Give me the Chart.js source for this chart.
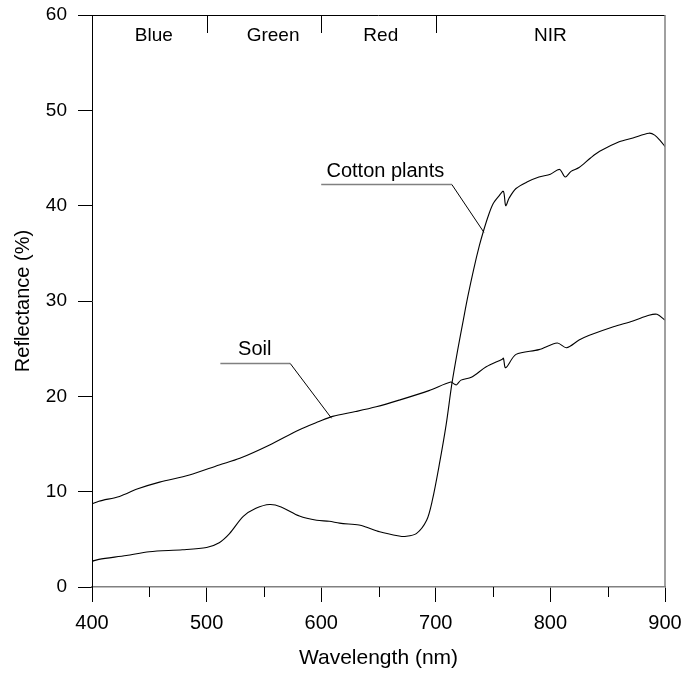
<!DOCTYPE html>
<html>
<head>
<meta charset="utf-8">
<script src="https://cdn.jsdelivr.net/npm/chart.js@4"></script>
<style>
  body { margin: 0; background: #fff; }
  #wrap { width: 685px; height: 690px; }
</style>
</head>
<body>
<div id="wrap"><canvas id="chart" width="685" height="690"></canvas></div>
<script>
// Soil spectrum
const soilWl = [400, 406, 424, 440, 459, 485, 511, 529, 555, 581, 598, 610, 630, 648, 668, 694, 713, 716, 718, 722, 731, 744, 758, 759, 761, 770, 790, 806, 814, 825, 834, 855, 872, 886, 893, 900];
const soilRefl = [8.7, 9.0, 9.5, 10.3, 11.0, 11.75, 12.8, 13.5, 14.9, 16.5, 17.35, 17.9, 18.4, 18.9, 19.6, 20.6, 21.5, 21.3, 21.2, 21.7, 22.0, 23.1, 23.9, 24.0, 23.0, 24.4, 24.9, 25.6, 25.1, 25.9, 26.4, 27.3, 27.9, 28.5, 28.6, 28.0];

// Cotton plant spectrum
const cottonWl = [400, 406, 430, 450, 479, 500, 511, 520, 532, 543, 555, 565, 581, 596, 607, 616, 633, 639, 651, 668, 673, 683, 692, 697, 703, 709, 714, 719, 724, 728, 733, 738, 742, 746, 750, 755, 759, 761, 764, 770, 780, 790, 800, 808, 813, 818, 825, 835, 843, 860, 872, 886, 891, 896, 900];
const cottonRefl = [2.7, 2.9, 3.3, 3.7, 3.9, 4.15, 4.65, 5.6, 7.4, 8.25, 8.65, 8.4, 7.45, 7.0, 6.9, 6.7, 6.5, 6.3, 5.8, 5.35, 5.3, 5.6, 7.0, 9.1, 12.8, 17.0, 21.3, 24.8, 28.0, 30.5, 33.3, 35.8, 37.5, 39.0, 40.2, 41.0, 41.5, 40.0, 40.8, 41.8, 42.5, 43.0, 43.3, 43.8, 43.0, 43.6, 44.0, 45.0, 45.7, 46.7, 47.1, 47.6, 47.4, 46.8, 46.2];

// spectral bands along the top
const bandNames = ["Blue", "Green", "Red", "NIR"];
const bandCenters = [454, 558, 652, 800];
const bandEdges = [500, 600, 700];

const minorTicks = [450, 550, 650, 750, 850];

// curve labels with leader lines: [text, textX, textY, lineStartX, lineEndX, lineY, pointX, pointY]
const curveLabels = [
  ["Soil", 542, 24.9, 512, 573, 23.5, 609, 17.7],
  ["Cotton plants", 656, 43.6, 600, 714, 42.3, 742, 37.2]
];

const FONT = "'Liberation Sans', Arial, sans-serif";

const toPts = (xs, ys) => xs.map((x, i) => ({ x, y: ys[i] }));

const extras = {
  id: "extras",
  afterDraw(chart) {
    const { ctx, chartArea: a, scales: { x, y } } = chart;
    ctx.save();
    // frame: top black, right gray
    ctx.lineWidth = 1;
    ctx.strokeStyle = "#000";
    ctx.beginPath();
    ctx.moveTo(a.left, a.top + 0.5);
    ctx.lineTo(a.right, a.top + 0.5);
    ctx.stroke();
    ctx.strokeStyle = "#808080";
    ctx.lineWidth = 1.5;
    ctx.beginPath();
    ctx.moveTo(a.right, a.top);
    ctx.lineTo(a.right, a.bottom);
    ctx.stroke();

    // minor x ticks
    ctx.strokeStyle = "#000";
    ctx.lineWidth = 1;
    minorTicks.forEach(v => {
      const px = Math.round(x.getPixelForValue(v)) + 0.5;
      ctx.beginPath();
      ctx.moveTo(px, a.bottom);
      ctx.lineTo(px, a.bottom + 10);
      ctx.stroke();
    });

    // band dividers + names
    bandEdges.forEach(v => {
      const px = Math.round(x.getPixelForValue(v)) + 0.5;
      ctx.beginPath();
      ctx.moveTo(px, a.top);
      ctx.lineTo(px, a.top + 18);
      ctx.stroke();
    });
    ctx.fillStyle = "#000";
    ctx.font = "19px " + FONT;
    ctx.textAlign = "center";
    ctx.textBaseline = "middle";
    bandNames.forEach((n, i) => {
      ctx.fillText(n, x.getPixelForValue(bandCenters[i]), a.top + 21);
    });

    // curve labels
    ctx.font = "20px " + FONT;
    curveLabels.forEach(([t, tx, ty, x0, x1, ly, px, py]) => {
      ctx.fillText(t, x.getPixelForValue(tx), y.getPixelForValue(ty));
      const yy = Math.round(y.getPixelForValue(ly)) + 0.5;
      ctx.strokeStyle = "#808080";
      ctx.lineWidth = 1.5;
      ctx.beginPath();
      ctx.moveTo(x.getPixelForValue(x0), yy);
      ctx.lineTo(x.getPixelForValue(x1), yy);
      ctx.stroke();
      ctx.strokeStyle = "#000";
      ctx.lineWidth = 1;
      ctx.beginPath();
      ctx.moveTo(x.getPixelForValue(x1), yy);
      ctx.lineTo(x.getPixelForValue(px), y.getPixelForValue(py));
      ctx.stroke();
    });
    ctx.restore();
  }
};

new Chart(document.getElementById("chart"), {
  type: "line",
  data: {
    datasets: [
      { label: "Soil", data: toPts(soilWl, soilRefl) },
      { label: "Cotton plants", data: toPts(cottonWl, cottonRefl) }
    ]
  },
  options: {
    responsive: false,
    animation: false,
    layout: { padding: { top: 15, right: 20, left: 0, bottom: 0 } },
    elements: {
      line: { borderColor: "#000", borderWidth: 1.1, tension: 0.3 },
      point: { radius: 0 }
    },
    plugins: { legend: { display: false }, tooltip: { enabled: false } },
    scales: {
      x: {
        type: "linear",
        min: 400, max: 900,
        afterFit: s => { s.height = 103; s.paddingLeft = 0; s.paddingRight = 0; },
        ticks: { stepSize: 100, color: "#000", font: { family: FONT, size: 20 }, padding: 9, maxRotation: 0 },
        grid: { drawOnChartArea: false, tickLength: 15, tickColor: "#000" },
        border: { color: "#808080", width: 1.5 },
        title: { display: true, text: "Wavelength (nm)", color: "#000", font: { family: FONT, size: 21 }, padding: { top: 0, bottom: 19 } }
      },
      y: {
        min: 0, max: 60,
        afterFit: s => { s.width = 92; s.paddingTop = 0; s.paddingBottom = 0; },
        ticks: { stepSize: 10, color: "#000", font: { family: FONT, size: 19 }, padding: 11 },
        grid: { drawOnChartArea: false, tickLength: 14, tickColor: "#000" },
        border: { color: "#000", width: 1 },
        title: { display: true, text: "Reflectance (%)", color: "#000", font: { family: FONT, size: 20 }, padding: { top: 11, bottom: 0 } }
      }
    }
  },
  plugins: [extras]
});
</script>
</body>
</html>
